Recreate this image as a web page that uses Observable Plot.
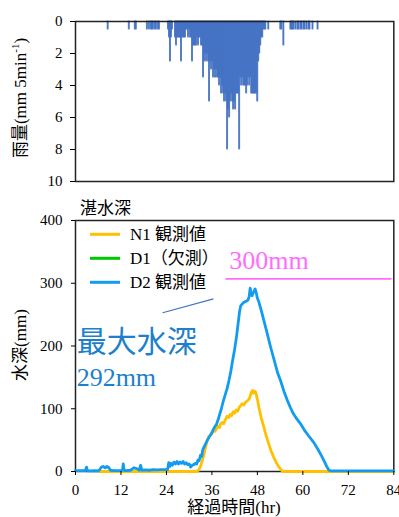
<!DOCTYPE html>
<html><head><meta charset="utf-8">
<script src="https://cdn.jsdelivr.net/npm/d3@7"></script>
<script src="https://cdn.jsdelivr.net/npm/@observablehq/plot@0.6"></script>
<style>
body{margin:0;background:#fff;}
#chart{width:399px;height:517px;overflow:hidden;position:relative;background:#fff;}
#chart svg{display:block;}
</style></head><body><div id="chart"></div>
<script>
// ---- rainfall (mm / 5 min) ----
const rainHour = [8.48,14.05,15.64,15.90,18.82,19.35,19.88,20.14,20.41,20.94,21.20,21.73,22.00,24.38,24.65,24.91,25.18,25.44,
26.24,26.50,26.77,27.03,27.30,27.56,27.83,28.09,28.36,28.62,
28.89,29.15,29.42,29.68,29.95,30.21,30.48,30.74,31.01,31.27,
31.54,31.80,32.07,32.33,32.60,32.86,33.13,33.39,33.66,33.92,
34.19,34.45,34.72,34.98,35.25,35.51,35.78,36.04,36.31,36.57,
36.84,37.10,37.37,37.63,37.90,38.16,38.43,38.69,38.96,39.22,
39.49,39.75,40.02,40.28,40.55,40.81,41.08,41.34,41.61,41.87,
42.14,42.40,42.67,42.93,43.20,43.46,43.73,43.99,44.26,44.52,
44.79,45.05,45.32,45.58,45.85,46.11,46.38,46.64,46.91,47.17,
47.44,47.70,47.97,48.23,48.50,48.76,49.03,49.29,49.56,49.82,50.09,
50.88,54.06,54.33,54.86,56.71,56.98,57.24,57.51,58.04,58.57,58.83,59.36,59.63,60.16,60.42,60.95,61.48,61.75,62.54,63.87];
const rainMM = [0.5,0.5,0.5,0.5,0.5,0.5,0.5,0.5,0.5,0.5,0.5,0.5,0.5,0.5,1.0,2.5,1.0,0.5,
1.0,1.5,1.0,1.0,1.0,1.0,2.5,1.0,1.0,1.0,
1.0,0.5,0.5,1.0,0.5,1.0,1.0,2.5,1.5,1.5,
1.5,1.5,1.0,1.5,1.0,1.0,1.5,1.5,3.5,2.5,
2.0,2.5,2.0,2.5,5.0,2.5,3.0,2.5,3.5,3.0,
3.5,3.0,3.5,3.5,4.0,3.5,4.5,4.0,4.5,5.0,
4.5,5.0,8.0,5.5,6.0,5.0,4.5,5.0,5.5,5.0,
5.5,4.5,4.5,4.5,8.0,3.5,4.0,3.5,4.0,4.0,
4.0,4.5,4.0,3.5,4.0,3.5,4.5,4.5,4.5,4.5,
4.5,4.5,5.0,2.5,2.0,1.5,1.0,1.0,0.5,0.5,0.5,
0.5,0.5,0.5,1.5,0.5,0.5,0.5,0.5,0.5,0.5,0.5,0.5,0.5,0.5,0.5,0.5,0.5,0.5,0.5,0.5];
const rainStep = 0.265;

// ---- ponding depth (mm) ----
const n1Hour = [6,10,15,20,25,30,31.7,32.5,33,33.4,33.8,34.3,34.7,35.1,35.6,36,36.4,36.8,37.2,37.6,38,38.3,38.7,39.1,39.5,40,40.4,40.8,41.2,41.6,42,42.4,42.8,43.2,43.6,44,44.4,44.8,45.2,45.6,46,46.4,46.7,47,47.3,47.6,48,48.4,49,49.7,50.3,51,51.6,52.3,53,53.7,54.5,55,60,67,72,84];
const n1Depth = [0,0,0,0,0,0,0,2,8,16,25,38,48,55,58,60,66,64,68,72,70,76,78,76,82,88,86,91,89,95,93,98,96,102,105,108,106,110,112,114,118,126,129,125,128,126,115,102,86,71,57,44,33,23,14,7,1,0,0,0,0,0];

const d2Hour = [0,1,2,2.6,2.9,3.2,4,5,6,6.4,6.8,7.3,7.8,8.3,8.8,9.2,10,11,12,12.4,12.6,12.8,13.5,14.5,15,15.4,15.9,16.4,16.8,17.2,17.5,18.5,19.5,20.5,21.5,22.5,23.5,24.3,24.6,24.9,25.2,25.6,26,26.4,26.8,27.2,27.6,28,28.4,28.8,29.2,29.6,30,30.4,30.8,31.2,31.6,32,32.3,32.6,33,33.3,33.6,34,34.4,34.8,35.2,35.6,36,36.4,36.8,37.2,37.6,38,38.5,39,39.5,40,40.5,41,41.5,42,42.5,43,43.3,43.6,44,44.5,45,45.5,45.8,46.1,46.3,46.6,47,47.4,47.7,48,48.4,49,49.7,50.5,51.5,52.5,53.4,54.1,55,56,56.7,57.5,58.5,59.4,60.5,61.5,62.9,64,65,65.5,66.3,66.9,67.5,70,75,80,84];
const d2Depth = [1.5,1.5,1.5,1.5,7,1,1,1.5,1,3,7,8,6,8,6,2,1.5,1.5,1.5,2,12,2,1.5,2,4,6,5,4,2,10,2,2.5,2,3,2.5,3,3,3,14,8,13,10,15,12,16,12,15,13,16,12,14,11,12,7,10,11,13,12,18,17,26,24,35,40,45,50,54,58,62,67,72,75,82,90,100,112,122,132,145,160,178,195,215,240,255,264,267,270,271,273,278,292,285,280,286,291,285,276,270,257,241,222,198,176,156,145,128,112,102,92,83,76,65,57,46,35,24,18,8,2,1,1,1,1,1];

const rainTicks = [0,2,4,6,8,10];
const depthTicks = [0,100,200,300,400];
const hourTicks = [0,12,24,36,48,60,72,84];
const legendLabels = ["N1 観測値","D1（欠測）","D2 観測値"];
const legendColors = ["#ffc000","#00c800","#119cf0"];
const limitLevel = 307;      // drawn 300 mm line
const maxDepthText = ["最大水深","292mm"];

const FONT = "'Liberation Serif','Times New Roman','Noto Sans CJK JP',serif";
const rain = rainHour.map((h,i)=>({h, v: rainMM[i]}));
const n1 = n1Hour.map((h,i)=>({h, v: n1Depth[i]}));
const d2 = d2Hour.map((h,i)=>({h, v: d2Depth[i]}));

const topChart = Plot.plot({
  width: 399, height: 190, marginLeft: 75, marginRight: 5.7, marginTop: 21, marginBottom: 9,
  style: {fontSize: "15px", color: "#000", background: "#fff"},
  x: {domain: [0,84], axis: null},
  y: {domain: [0,10], reverse: true, axis: null},
  marks: [
    Plot.rect(rain, {x1: d=>d.h, x2: d=>d.h+rainStep, y1: d=>0, y2: d=>d.v, fill: "#4472c4", stroke: "#4472c4", strokeWidth: 0.8}),
    Plot.frame({stroke: "#222", strokeWidth: 1.5}),
    Plot.axisY({ticks: rainTicks, tickSize: 5, tickPadding: 8, label: null, tickFormat: d=>String(d)})
  ]
});

const botChart = Plot.plot({
  width: 399, height: 327, marginLeft: 75, marginRight: 5.7, marginTop: 30, marginBottom: 46,
  style: {fontSize: "15px", color: "#000", background: "#fff"},
  x: {domain: [0,84]},
  y: {domain: [0,400]},
  marks: [
    Plot.frame({stroke: "#222", strokeWidth: 1.5}),
    Plot.link([{x1: 39.6, x2: 83.4, y: limitLevel}], {x1: "x1", x2: "x2", y1: "y", y2: "y", stroke: "#ff6dff", strokeWidth: 1.6}),
    Plot.text([{x: 40.6, y: 336, t: "300mm"}], {x: "x", y: "y", text: "t", textAnchor: "start", fill: "#ff6dff", fontSize: 26}),
    Plot.line(n1, {x: "h", y: "v", stroke: "#ffc000", strokeWidth: 2.8, strokeLinejoin: "round"}),
    Plot.line(d2, {x: "h", y: "v", stroke: "#119cf0", strokeWidth: 2.8, strokeLinejoin: "round"}),
    Plot.link([{x1: 23.0, y1: 253, x2: 36.4, y2: 275}], {x1: "x1", y1: "y1", x2: "x2", y2: "y2", stroke: "#4472c4", strokeWidth: 1.2}),
    Plot.text([{x: 0.3, y: 206, t: maxDepthText[0]}], {x: "x", y: "y", text: "t", textAnchor: "start", fill: "#1e7fcb", fontSize: 30}),
    Plot.text([{x: 0.3, y: 150, t: maxDepthText[1]}], {x: "x", y: "y", text: "t", textAnchor: "start", fill: "#1e7fcb", fontSize: 26}),
    Plot.axisY({ticks: depthTicks, tickSize: 4, tickPadding: 9, label: null, tickFormat: d=>String(d)}),
    Plot.axisX({ticks: hourTicks, tickSize: 4, tickPadding: 9, label: null, tickFormat: d=>String(d)})
  ]
});

// axis label (rain)
const s1 = d3.select(topChart);
const t1 = s1.append("text").attr("transform","translate(22,98) rotate(-90)")
  .attr("text-anchor","middle").attr("dominant-baseline","middle")
  .attr("font-size",17).attr("fill","#000");
t1.append("tspan").text("雨量(mm 5min");
t1.append("tspan").attr("baseline-shift","super").attr("font-size",11).text("-1");
t1.append("tspan").text(")");

const s2 = d3.select(botChart);
s2.append("text").attr("x",80).attr("y",18).attr("dy","0.35em").attr("text-anchor","start")
  .attr("font-size",17).attr("fill","#000").text("湛水深");
s2.append("text").attr("transform","translate(22,155) rotate(-90)")
  .attr("text-anchor","middle").attr("dominant-baseline","middle")
  .attr("font-size",17).attr("fill","#000").text("水深(mm)");
s2.append("text").attr("x",234).attr("y",319).attr("text-anchor","middle").attr("dominant-baseline","middle")
  .attr("font-size",17).attr("fill","#000").text("経過時間(hr)");
const lg = s2.append("g");
legendLabels.forEach((t,i)=>{
  const y = 44.3 + i*24;
  lg.append("line").attr("x1",90).attr("x2",120).attr("y1",y).attr("y2",y)
    .attr("stroke",legendColors[i]).attr("stroke-width",3);
  lg.append("text").attr("x",130).attr("y",y).attr("dy","0.35em").attr("text-anchor","start")
    .attr("font-size",17).attr("fill","#000").text(t);
});

// serif (Times-like) lettering everywhere, CJK falling back to Noto
[topChart, botChart].forEach(svg => {
  svg.style.fontFamily = FONT;
  d3.select(svg).selectAll("text").style("font-family", FONT);
});

const root = document.getElementById("chart");
root.appendChild(topChart);
root.appendChild(botChart);
</script>
</body></html>
